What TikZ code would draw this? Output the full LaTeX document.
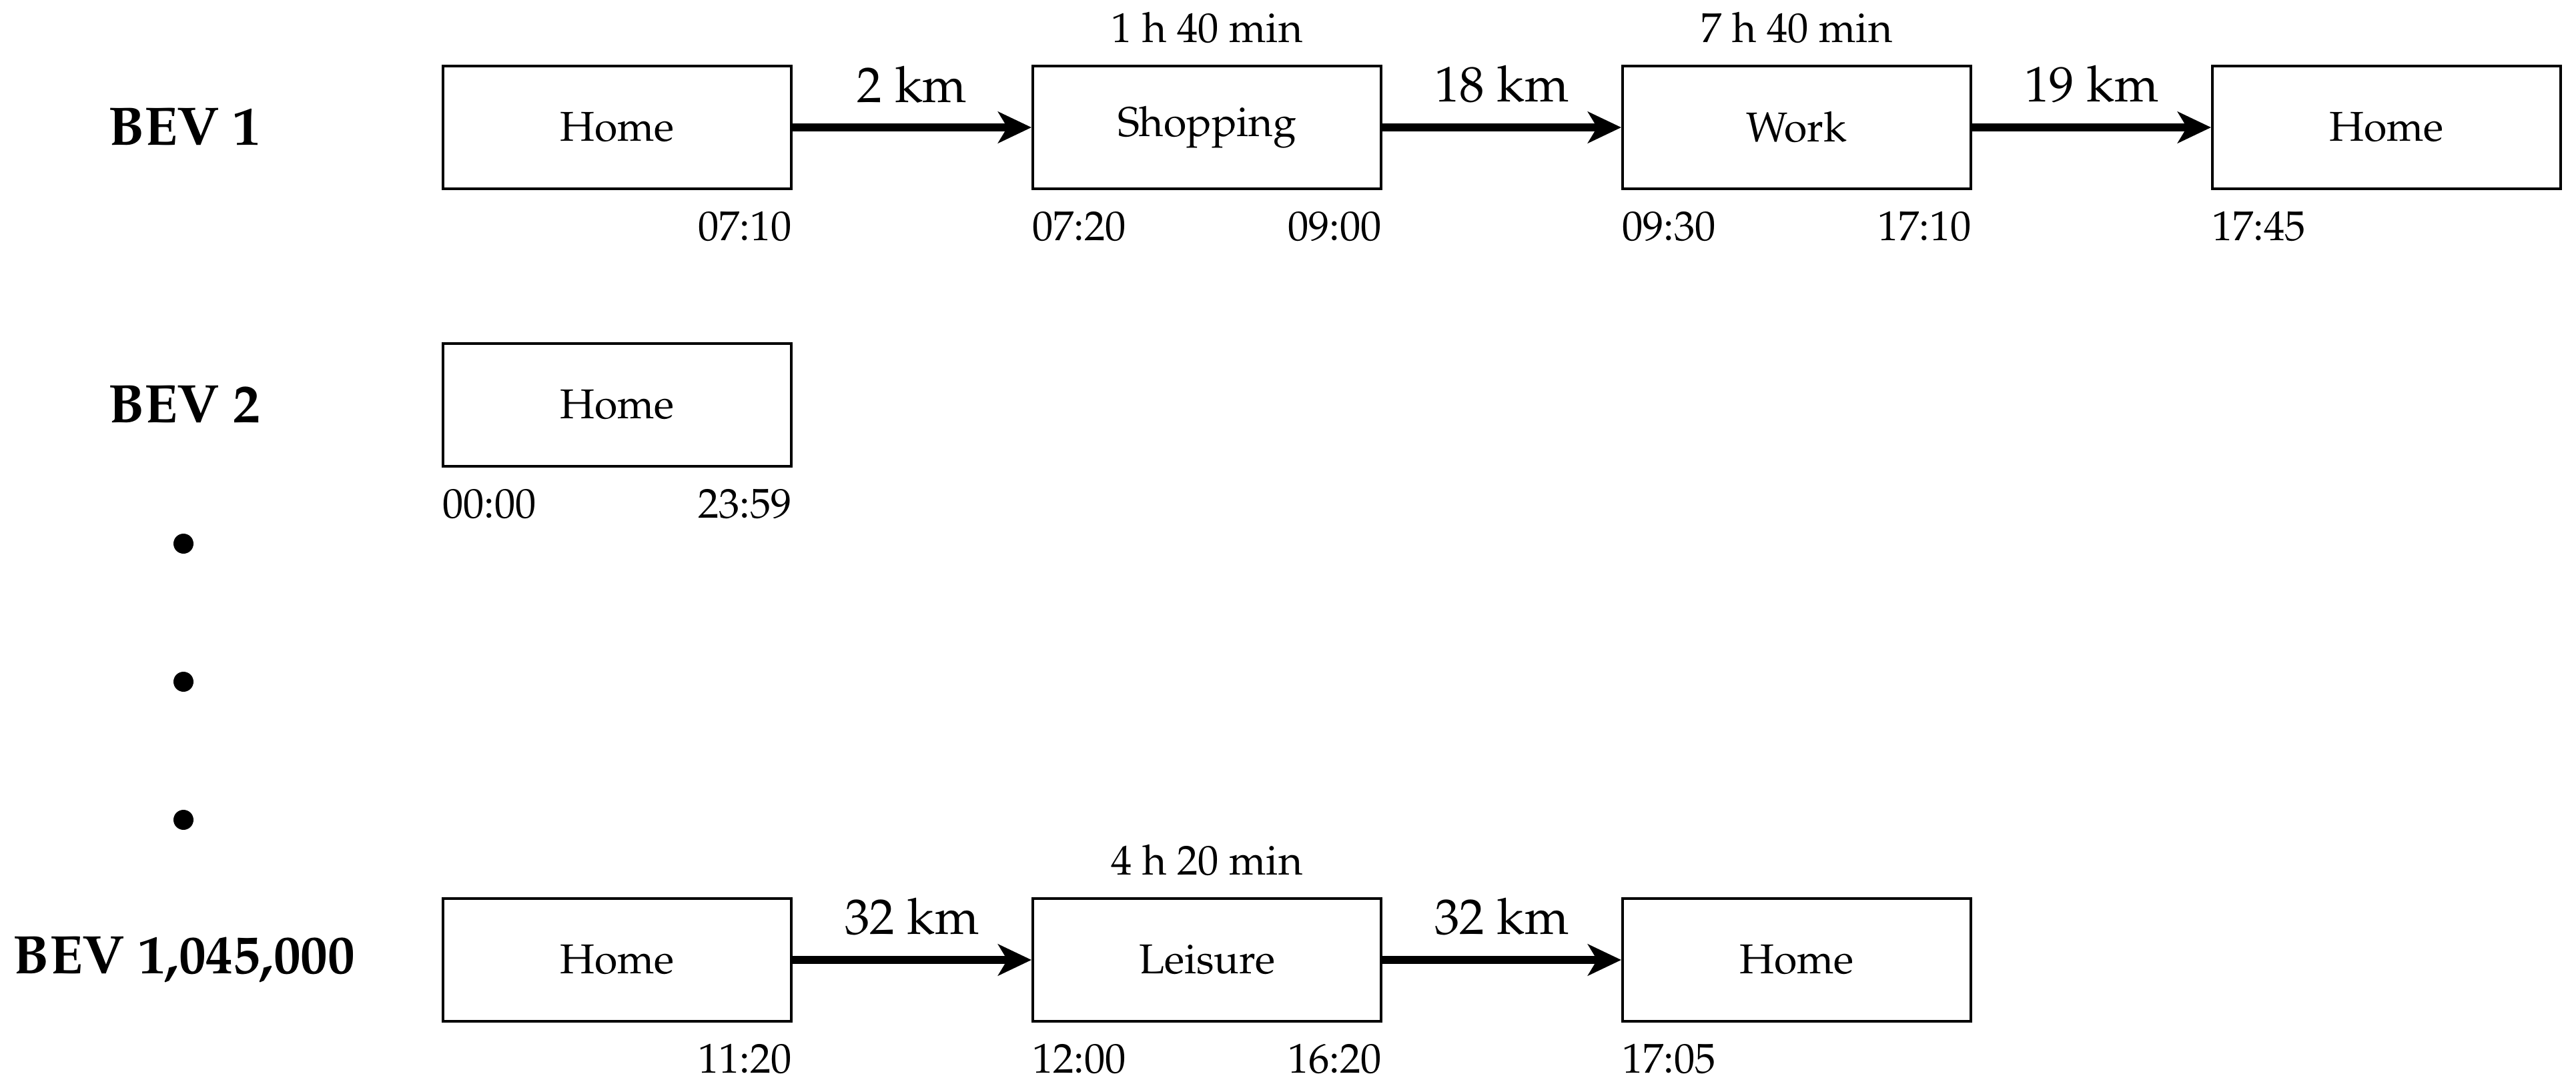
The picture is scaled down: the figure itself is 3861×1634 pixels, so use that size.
\documentclass[tikz,border=0pt]{standalone}
\usepackage[T1]{fontenc}
\usepackage{mathpazo}
\usetikzlibrary{arrows.meta}
\begin{document}
\begin{tikzpicture}[x=0.16pt,y=-0.16pt,
  place/.style={draw, line width=0.65pt, minimum width=83.5pt, minimum height=29.4pt, inner sep=0pt, font=\fontsize{10}{12}\selectfont},
  trip/.style={-{Stealth[length=8pt,width=7.5pt,inset=2.2pt]}, line width=1.9pt},
  km/.style={midway, above=5.0pt, inner sep=0pt, font=\fontsize{12}{14}\selectfont},
  dur/.style={above=5.0pt, inner sep=0pt, font=\fontsize{10}{12}\selectfont},
  tleft/.style={anchor=north west, inner sep=0pt, font=\fontsize{10}{12}\selectfont},
  tright/.style={anchor=north east, inner sep=0pt, font=\fontsize{10}{12}\selectfont},
  bev/.style={inner sep=0pt, font=\fontsize{13}{15}\selectfont\bfseries},
  dot/.style={circle, fill=black, inner sep=0pt, minimum size=4.8pt}
]
\useasboundingbox (0,0) rectangle (3861,1634);

% Row 1
\node[bev] (bev1) at (276,191) {BEV 1};
\node[place] (a1) at (925,191) {Home};
\node[place] (a2) at (1809,191) {Shopping};
\node[place] (a3) at (2693,191) {Work};
\node[place] (a4) at (3577,191) {Home};
\draw[trip] (a1) -- (a2) node[km] (k1) {2 km};
\draw[trip] (a2) -- (a3) node[km] (k2) {18 km};
\draw[trip] (a3) -- (a4) node[km] (k3) {19 km};
\node[dur] (d2) at (a2.north) {1 h 40 min};
\node[dur] (d3) at (a3.north) {7 h 40 min};
\node[tright] (t1r) at ([yshift=-5.0pt]a1.south east) {07:10};
\node[tleft] (t2l) at ([yshift=-5.0pt]a2.south west) {07:20};
\node[tright] (t2r) at ([yshift=-5.0pt]a2.south east) {09:00};
\node[tleft] (t3l) at ([yshift=-5.0pt]a3.south west) {09:30};
\node[tright] (t3r) at ([yshift=-5.0pt]a3.south east) {17:10};
\node[tleft] (t4l) at ([yshift=-5.0pt]a4.south west) {17:45};

% Row 2
\node[bev] (bev2) at (276,607) {BEV 2};
\node[place] (b1) at (925,607) {Home};
\node[tleft] (u1l) at ([yshift=-5.0pt]b1.south west) {00:00};
\node[tright] (u1r) at ([yshift=-5.0pt]b1.south east) {23:59};

% Dots
\node[dot] (p1) at (275,815) {};
\node[dot] (p2) at (275,1022) {};
\node[dot] (p3) at (275,1229) {};

% Row 3
\node[bev] (bev3) at (276,1439) {BEV 1,045,000};
\node[place] (c1) at (925,1439) {Home};
\node[place] (c2) at (1809,1439) {Leisure};
\node[place] (c3) at (2693,1439) {Home};
\draw[trip] (c1) -- (c2) node[km] (m1) {32 km};
\draw[trip] (c2) -- (c3) node[km] (m2) {32 km};
\node[dur] (e2) at (c2.north) {4 h 20 min};
\node[tright] (v1r) at ([yshift=-5.0pt]c1.south east) {11:20};
\node[tleft] (v2l) at ([yshift=-5.0pt]c2.south west) {12:00};
\node[tright] (v2r) at ([yshift=-5.0pt]c2.south east) {16:20};
\node[tleft] (v3l) at ([yshift=-5.0pt]c3.south west) {17:05};
\end{tikzpicture}
\end{document}
